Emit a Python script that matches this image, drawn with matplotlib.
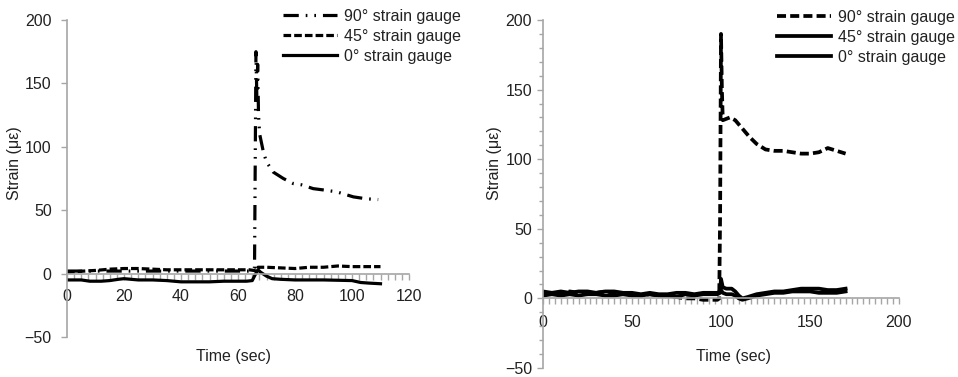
import matplotlib
matplotlib.use("Agg")
import matplotlib.pyplot as plt
from matplotlib.ticker import MultipleLocator

plt.rcParams['font.family'] = ['Liberation Sans', 'DejaVu Sans']
plt.rcParams['lines.scale_dashes'] = False

# ---- Left panel data ----
L90_x = [0, 10, 20, 30, 40, 50, 60, 65, 65.8, 66.3, 66.6, 66.9, 67.2, 67.6, 68.9, 70, 72.4, 75.9, 79.4, 82.3, 86.4, 89.9, 94.6, 100.5, 105, 109.2]
L90_y = [2, 2, 2, 2, 2, 2, 2, 2, 5, 175, 140, 165, 125, 110, 96, 88, 80, 75, 71, 70, 67, 66, 64.5, 60.5, 59, 58.4]
L45_x = [0, 3, 6, 10, 15, 20, 25, 30, 35, 40, 45, 50, 55, 60, 64, 65.5, 66.5, 67, 70, 75, 80, 85, 90, 95, 100, 105, 110]
L45_y = [1, 1.5, 2, 2.5, 3.5, 4, 4, 3.5, 3, 3, 3, 3, 3, 3, 3, 2.5, 2, 5, 5, 4.5, 4, 5, 5, 6, 5.5, 5.5, 5.5]
L0_x = [0, 5, 8, 12, 15, 18, 20, 25, 30, 35, 40, 45, 50, 55, 60, 63, 65, 66, 67, 68, 70, 72, 75, 80, 90, 100, 103, 106, 110]
L0_y = [-5, -5, -6, -6, -5.5, -4.5, -4, -5, -5, -5.5, -6.5, -6.5, -6.5, -6, -6, -6, -5.5, -1, 3, 1, -2, -4, -4.5, -5, -5, -5.5, -7, -7.5, -8]

# ---- Right panel data ----
R90_x = [0, 5, 10, 15, 20, 25, 30, 35, 40, 45, 50, 55, 60, 65, 70, 75, 80, 85, 90, 95, 98, 99, 99.5, 100, 100.5, 101, 103, 105, 108, 112, 116, 120, 125, 130, 135, 140, 145, 150, 155, 160, 165, 170]
R90_y = [3, 4, 3, 5, 4, 3, 4, 5, 4, 3, 3, 2, 3, 2, 2, 1, 0, 0, -1, -1, -1, 0, 60, 190, 150, 128, 129, 130, 128, 122, 116, 111, 107, 106, 106, 105, 104, 104, 105, 108, 106, 104]
R_x = [0, 5, 10, 15, 20, 25, 30, 35, 40, 45, 50, 55, 60, 65, 70, 75, 80, 85, 90, 95, 98, 99.5, 100, 101, 103, 106, 108, 110, 112, 115, 120, 125, 130, 135, 140, 145, 150, 155, 160, 165, 170]
R45_y = [5, 4, 5, 4, 5, 5, 4, 5, 5, 4, 4, 3, 4, 3, 3, 4, 4, 3, 4, 4, 4, 5, 14, 8, 7, 7, 5, 2, 0, 1, 3, 4, 5, 5, 6, 7, 7, 7, 6, 6, 7]
R0_y = [2, 3, 2, 3, 2, 3, 3, 2, 2, 3, 2, 2, 3, 2, 2, 1, 3, 2, 3, 3, 3, 4, 6, 4, 3, 3, 2, 0, -1, 0, 2, 3, 4, 4, 5, 5, 5, 4, 4, 4, 5]

labels = ['90° strain gauge', '45° strain gauge', '0° strain gauge']

W, H = 958, 377
fig = plt.figure(figsize=(W / 100, H / 100), dpi=100)

AX_COLOR = '#a6a6a6'
TXT = '#222222'


def px(x0, y_top, x1, y_bot):
    return [x0 / W, 1 - y_bot / H, (x1 - x0) / W, (y_bot - y_top) / H]


def style(ax, xmax, xmajor, xminor, yminor, ypad, xpad):
    ax.set_ylim(-50, 200)
    ax.set_xlim(0, xmax)
    for s in ['top', 'right']:
        ax.spines[s].set_visible(False)
    ax.spines['bottom'].set_position(('data', 0))
    for s in ['left', 'bottom']:
        ax.spines[s].set_color(AX_COLOR)
        ax.spines[s].set_linewidth(1.2)
    ax.yaxis.set_major_locator(MultipleLocator(50))
    ax.xaxis.set_major_locator(MultipleLocator(xmajor))
    ax.xaxis.set_minor_locator(MultipleLocator(xminor))
    if yminor:
        ax.yaxis.set_minor_locator(MultipleLocator(yminor))
    ax.tick_params(axis='both', which='both', direction='out', color=AX_COLOR, width=1.0)
    ax.tick_params(axis='y', which='major', length=4, pad=ypad, labelsize=11.5, labelcolor=TXT)
    ax.tick_params(axis='y', which='minor', length=3)
    ax.tick_params(axis='x', which='major', length=4, pad=xpad, labelsize=11.5, labelcolor=TXT)
    ax.tick_params(axis='x', which='minor', length=4)
    ax.yaxis.set_major_formatter(matplotlib.ticker.FuncFormatter(lambda v, p: f"{int(v)}".replace('-', '\u2212')))
    ax.set_facecolor('none')


# ---- Left axes ----
axL = fig.add_axes(px(67, 20, 409, 337))
style(axL, 120, 20, 2.5, None, 7, 7)
lw = 2.3
axL.plot(L90_x, L90_y, color='black', lw=lw, dashes=(11, 5, 1.2, 5, 1.2, 5), label=labels[0])
axL.plot(L45_x, L45_y, color='black', lw=lw, dashes=(5.5, 2.2), label=labels[1])
axL.plot(L0_x, L0_y, color='black', lw=lw, label=labels[2])
axL.legend(loc='upper left', bbox_to_anchor=(283 / W, 1 - 9 / H), bbox_transform=fig.transFigure,
           frameon=False, fontsize=11.5, handlelength=3.4, handletextpad=0.4, labelspacing=0.3,
           borderpad=0, borderaxespad=0, labelcolor=TXT)
fig.text(15 / W, 1 - 163 / H, 'Strain (με)', rotation=90, ha='center', va='center', fontsize=11.5, color=TXT)
fig.text(233 / W, 1 - 356 / H, 'Time (sec)', ha='center', va='center', fontsize=11.5, color=TXT)

# ---- Right axes ----
axR = fig.add_axes(px(543, 20, 899, 368))
style(axR, 200, 50, 10 / 3, 10, 4, 8)
lw2 = 2.7
axR.plot(R90_x, R90_y, color='black', lw=lw2, dashes=(6.5, 3), label=labels[0])
axR.plot(R_x, R45_y, color='black', lw=lw2, label=labels[1])
axR.plot(R_x, R0_y, color='black', lw=lw2, label=labels[2])
axR.legend(loc='upper left', bbox_to_anchor=(777 / W, 1 - 10 / H), bbox_transform=fig.transFigure,
           frameon=False, fontsize=11.5, handlelength=3.4, handletextpad=0.4, labelspacing=0.3,
           borderpad=0, borderaxespad=0, labelcolor=TXT)
fig.text(495 / W, 1 - 163 / H, 'Strain (με)', rotation=90, ha='center', va='center', fontsize=11.5, color=TXT)
fig.text(733 / W, 1 - 356 / H, 'Time (sec)', ha='center', va='center', fontsize=11.5, color=TXT)

fig.savefig('out.png', dpi=100, facecolor='white')
